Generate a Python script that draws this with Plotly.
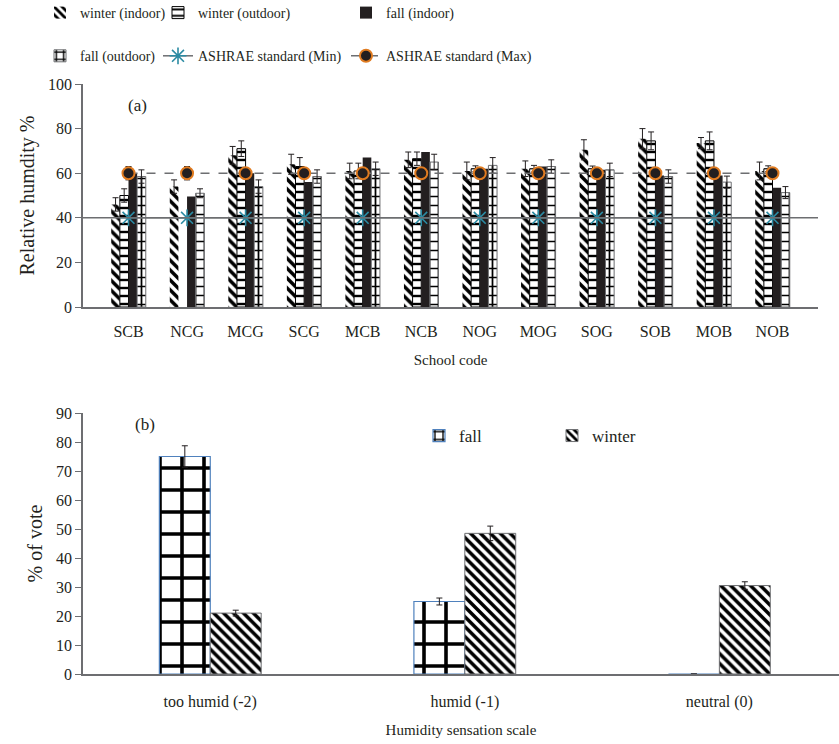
import plotly.graph_objects as go

# ---- panel (a): relative humidity per school ----
schools = ["SCB", "NCG", "MCG", "SCG", "MCB", "NCB", "NOG", "MOG", "SOG", "SOB", "MOB", "NOB"]
winter_indoor = [46, 54, 68, 64, 61, 66, 61, 62, 70.5, 75.5, 73.5, 61]
winter_indoor_err = [3, 3, 4, 4.5, 3.5, 3.5, 4, 3.5, 4.5, 4.5, 2.5, 4]
winter_outdoor = [50, None, 71, 63, 61, 66.5, 62, 62, 62, 74.5, 74.5, 62]
winter_outdoor_err = [3, None, 3.5, 4, 3.5, 3, 1.3, 1.5, 1.2, 4, 4, 1.3]
fall_indoor = [60, 49.5, 60, 56, 67, 69.5, 62, 63, 61.5, 59, 59, 53.5]
fall_outdoor = [58.5, 51, 54, 58.5, 62, 65, 63.5, 63, 61.5, 58.5, 56, 51.3]
fall_outdoor_err = [3, 2, 3, 3, 3, 3.5, 3.5, 3, 3, 3, 2.7, 2.7]
ashrae_min = [40] * 12
ashrae_max = [60] * 12
ashrae_max_err = [3, 3] + [None] * 10

# ---- panel (b): humidity sensation votes ----
sensation = ["too humid (-2)", "humid (-1)", "neutral (0)"]
vote_fall = [75, 25, 0]
vote_fall_err = [3.7, 1.2, 0]
vote_winter = [21, 48.5, 30.5]
vote_winter_err = [1, 2.5, 1.3]

INK = "#231f20"
AXIS = "#6d6e71"
FONT = "Liberation Serif, Times New Roman, serif"


def pat(shape, size, solidity):
    return dict(shape=shape, fgcolor="#000000", bgcolor="white", size=size,
                solidity=solidity, fillmode="replace", fgopacity=1)


fig = go.Figure()

err_style = dict(type="data", color=INK, thickness=1, width=3)

fig.add_trace(go.Bar(
    x=schools, y=winter_indoor, name="winter (indoor)",
    error_y=dict(array=winter_indoor_err, **err_style),
    marker=dict(color="white", line=dict(width=0), pattern=pat("\\", 7, 0.5)),
    xaxis="x", yaxis="y", legend="legend", legendgroup="wi",
))
fig.add_trace(go.Bar(
    x=schools, y=winter_outdoor, name="winter (outdoor)",
    error_y=dict(array=winter_outdoor_err, **err_style),
    marker=dict(color="white", line=dict(width=1, color="black"), pattern=pat("-", 8, 0.3)),
    xaxis="x", yaxis="y", legend="legend2", legendgroup="wo",
))
fig.add_trace(go.Bar(
    x=schools, y=fall_indoor, name="fall (indoor)",
    marker=dict(color=INK, line=dict(width=0)),
    xaxis="x", yaxis="y", legend="legend3", legendgroup="fi",
))
fig.add_trace(go.Bar(
    x=schools, y=fall_outdoor, name="fall (outdoor)",
    error_y=dict(array=fall_outdoor_err, **err_style),
    marker=dict(color="white", line=dict(width=1, color=AXIS), pattern=pat("+", 9, 0.35)),
    xaxis="x", yaxis="y", legend="legend", legendgroup="fo",
))
fig.add_trace(go.Scatter(
    x=schools, y=ashrae_min, name="ASHRAE standard (Min)", mode="lines+markers",
    line=dict(color=AXIS, width=1.5),
    marker=dict(symbol="asterisk-open", size=14, color="#2b8ba3", line=dict(width=1.6, color="#2b8ba3")),
    xaxis="x", yaxis="y", legend="legend2", legendgroup="mn",
))
fig.add_trace(go.Scatter(
    x=schools, y=ashrae_max, name="ASHRAE standard (Max)", mode="lines+markers",
    line=dict(color=AXIS, width=1.5, dash="dash"),
    error_y=dict(array=ashrae_max_err, **err_style),
    marker=dict(symbol="circle", size=12, color=INK, line=dict(width=2, color="#e07b20")),
    xaxis="x", yaxis="y", legend="legend3", legendgroup="mx",
))

# panel (b) bars
fig.add_trace(go.Bar(
    x=sensation, y=vote_fall, name="fall", width=0.2, offset=-0.2,
    error_y=dict(array=vote_fall_err, **err_style),
    marker=dict(color="white", line=dict(width=1.2, color="#4f81bd"), pattern=pat("+", 22, 0.3)),
    xaxis="x2", yaxis="y2", legend="legend4",
))
fig.add_trace(go.Bar(
    x=sensation, y=vote_winter, name="winter", width=0.2, offset=0,
    error_y=dict(array=vote_winter_err, **err_style),
    marker=dict(color="white", line=dict(width=1, color=AXIS), pattern=pat("\\", 7, 0.5)),
    xaxis="x2", yaxis="y2", legend="legend4",
))

W, H = 839, 744
top_y0, top_y1 = 1 - 307 / H, 1 - 84 / H
bot_y0, bot_y1 = 1 - 674 / H, 1 - 413 / H

axis_common = dict(showline=True, linecolor=AXIS, linewidth=1.5, showgrid=False, zeroline=False,
                   automargin=False, tickfont=dict(family=FONT, size=16, color=INK))
x_title_font = dict(family=FONT, size=15, color=INK)
y_title_font = dict(family=FONT, size=20, color=INK)
hidden_ticks = dict(ticks="outside", tickcolor="rgba(0,0,0,0)")

legend_common = dict(font=dict(family=FONT, size=14, color=INK), bgcolor="rgba(0,0,0,0)",
                     yanchor="top", y=1 + 3 / H, xanchor="left", orientation="v",
                     tracegroupgap=22, traceorder="grouped")

fig.update_layout(
    template="none",
    width=W, height=H,
    margin=dict(l=0, r=0, t=0, b=0, autoexpand=False),
    paper_bgcolor="white", plot_bgcolor="white",
    barmode="group", bargap=0.41, bargroupgap=0,
    font=dict(family=FONT, color=INK),
    xaxis=dict(domain=[83 / W, 818 / W], anchor="y", ticklen=9, **hidden_ticks, **axis_common,
               title=dict(text="School code", standoff=16, font=x_title_font)),
    yaxis=dict(domain=[top_y0, top_y1], anchor="x", range=[0, 100], dtick=20,
               ticks="outside", ticklen=6, tickcolor=AXIS, **axis_common,
               title=dict(text="Relative humdity %", standoff=8, font=y_title_font)),
    xaxis2=dict(domain=[83 / W, 1.0], anchor="y2", range=[-0.5, 2.47], ticklen=12, **hidden_ticks,
                **axis_common,
                title=dict(text="Humidity sensation scale", standoff=15, font=x_title_font)),
    yaxis2=dict(domain=[bot_y0, bot_y1], anchor="x2", range=[0, 90], dtick=10,
                ticks="outside", ticklen=6, tickcolor=AXIS, **axis_common,
                title=dict(text="% of vote", standoff=8, font=y_title_font)),
    legend=dict(x=40 / W, **legend_common),
    legend2=dict(x=158 / W, **legend_common),
    legend3=dict(x=346 / W, **legend_common),
    legend4=dict(x=419 / W, y=1 - 418 / H, yanchor="top", xanchor="left", orientation="h",
                 entrywidth=88, font=dict(family=FONT, size=17, color=INK),
                 bgcolor="rgba(0,0,0,0)"),
    shapes=[dict(type="line", xref="x domain", yref="y", x0=0, x1=1,
                 y0=ashrae_min[0], y1=ashrae_min[0], line=dict(color=AXIS, width=1.5), layer="above")],
    annotations=[
        dict(text="(a)", xref="paper", yref="paper", x=137 / W, y=1 - 106 / H,
             xanchor="center", yanchor="middle",
             showarrow=False, font=dict(family=FONT, size=17, color=INK)),
        dict(text="(b)", xref="paper", yref="paper", x=145 / W, y=1 - 424 / H,
             xanchor="center", yanchor="middle",
             showarrow=False, font=dict(family=FONT, size=17, color=INK)),
    ],
)

fig.write_html("out.html")
